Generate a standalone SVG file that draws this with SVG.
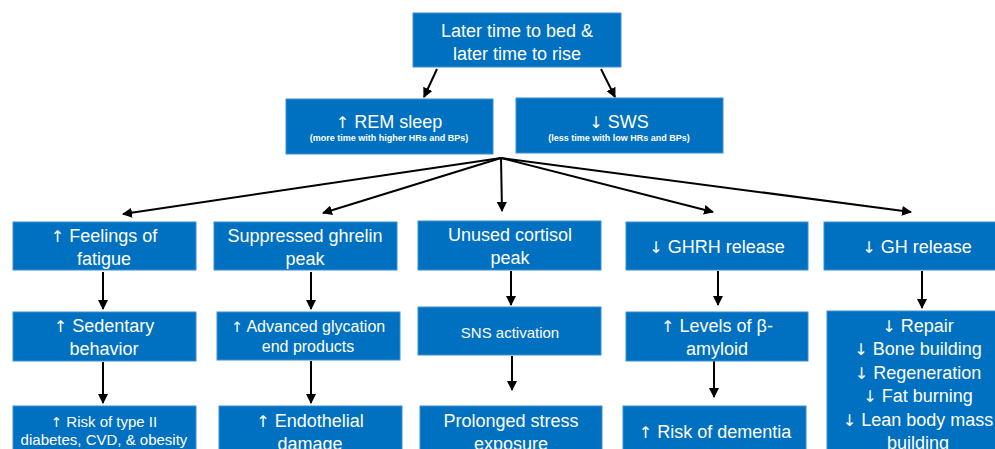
<svg xmlns="http://www.w3.org/2000/svg" width="995" height="449" viewBox="0 0 995 449">
  <defs>
    <style>
      .box { fill: #0070C0; stroke: #3C8FD6; stroke-width: 1; }
      .t { font-family: "Liberation Sans", Arial, sans-serif; fill: #ffffff; text-anchor: middle; }
      .l { font-size: 18px; }
      .m { font-size: 16px; }
      .s { font-size: 15px; }
      .xs { font-size: 9px; font-weight: bold; }
      .ar { font-family: "DejaVu Sans", sans-serif; font-size: 0.9em; }
      .edge { stroke: #000000; stroke-width: 2; fill: none; marker-end: url(#head); }
    </style>
    <marker id="head" viewBox="0 0 10 10" refX="9" refY="5" markerWidth="5" markerHeight="5" orient="auto" markerUnits="strokeWidth">
      <path d="M0,0 L10,5 L0,10 z" fill="#000000"/>
    </marker>
  </defs>
  <rect width="995" height="449" fill="#ffffff"/>

  <!-- connectors -->
  <g id="connectors">
    <line class="edge" x1="437" y1="69" x2="424" y2="97"/>
    <line class="edge" x1="601" y1="69" x2="615" y2="97"/>
    <line class="edge" x1="501" y1="158" x2="123" y2="214"/>
    <line class="edge" x1="501" y1="158" x2="323" y2="213"/>
    <line class="edge" x1="501" y1="158" x2="502" y2="211"/>
    <line class="edge" x1="501" y1="158" x2="713" y2="212"/>
    <line class="edge" x1="501" y1="158" x2="911" y2="212"/>
    <line class="edge" x1="103" y1="272" x2="103" y2="309"/>
    <line class="edge" x1="103" y1="362" x2="103" y2="403"/>
    <line class="edge" x1="311" y1="272" x2="311" y2="309"/>
    <line class="edge" x1="311" y1="361" x2="311" y2="403"/>
    <line class="edge" x1="511" y1="271" x2="511" y2="305"/>
    <line class="edge" x1="512" y1="356" x2="512" y2="390"/>
    <line class="edge" x1="718" y1="271" x2="718" y2="305"/>
    <line class="edge" x1="714" y1="361" x2="714" y2="397"/>
    <line class="edge" x1="922" y1="271" x2="922" y2="308"/>
  </g>

  <!-- top level -->
  <g id="n-later">
    <rect class="box" x="413" y="13" width="208" height="54"/>
    <text class="t l" x="517" y="36.5">Later time to bed &amp;</text>
    <text class="t l" x="517" y="59.5">later time to rise</text>
  </g>

  <g id="n-rem">
    <rect class="box" x="286" y="99" width="207" height="55"/>
    <text class="t l" x="389" y="127.5"><tspan class="ar">↑</tspan> REM sleep</text>
    <text class="t xs" x="389" y="141">(more time with higher HRs and BPs)</text>
  </g>
  <g id="n-sws">
    <rect class="box" x="516" y="98" width="207" height="55"/>
    <text class="t l" x="619" y="127.5"><tspan class="ar">↓</tspan> SWS</text>
    <text class="t xs" x="619" y="141">(less time with low HRs and BPs)</text>
  </g>

  <!-- column 1 -->
  <g id="n-fatigue">
    <rect class="box" x="13" y="222" width="183" height="48"/>
    <text class="t l" x="104" y="241.5"><tspan class="ar">↑</tspan> Feelings of</text>
    <text class="t l" x="104" y="264.5">fatigue</text>
  </g>
  <g id="n-sedentary">
    <rect class="box" x="13" y="312" width="183" height="49"/>
    <text class="t l" x="104" y="331.5"><tspan class="ar">↑</tspan> Sedentary</text>
    <text class="t l" x="104" y="354.5">behavior</text>
  </g>
  <g id="n-risk2">
    <rect class="box" x="13" y="406" width="183" height="60"/>
    <text class="t s" x="104" y="427"><tspan class="ar">↑</tspan> Risk of type II</text>
    <text class="t s" x="104" y="445">diabetes, CVD, &amp; obesity</text>
  </g>

  <!-- column 2 -->
  <g id="n-ghrelin">
    <rect class="box" x="214" y="222" width="183" height="48"/>
    <text class="t l" x="305" y="241.5">Suppressed ghrelin</text>
    <text class="t l" x="305" y="264.5">peak</text>
  </g>
  <g id="n-age">
    <rect class="box" x="217" y="312" width="183" height="48"/>
    <text class="t m" x="308" y="332"><tspan class="ar">↑</tspan> Advanced glycation</text>
    <text class="t m" x="308" y="352">end products</text>
  </g>
  <g id="n-endothelial">
    <rect class="box" x="219" y="406" width="183" height="60"/>
    <text class="t l" x="310" y="426.5"><tspan class="ar">↑</tspan> Endothelial</text>
    <text class="t l" x="310" y="449.5">damage</text>
  </g>

  <!-- column 3 -->
  <g id="n-cortisol">
    <rect class="box" x="418" y="221" width="183" height="49"/>
    <text class="t l" x="510" y="241">Unused cortisol</text>
    <text class="t l" x="510" y="264">peak</text>
  </g>
  <g id="n-sns">
    <rect class="box" x="418" y="307" width="183" height="48"/>
    <text class="t s" x="510" y="337.5">SNS activation</text>
  </g>
  <g id="n-stress">
    <rect class="box" x="420" y="406" width="182" height="60"/>
    <text class="t l" x="511" y="426.5">Prolonged stress</text>
    <text class="t l" x="511" y="449.5">exposure</text>
  </g>

  <!-- column 4 -->
  <g id="n-ghrh">
    <rect class="box" x="626" y="222" width="182" height="48"/>
    <text class="t l" x="717" y="252.5"><tspan class="ar">↓</tspan> GHRH release</text>
  </g>
  <g id="n-amyloid">
    <rect class="box" x="626" y="312" width="182" height="49"/>
    <text class="t l" x="717" y="331.5"><tspan class="ar">↑</tspan> Levels of β-</text>
    <text class="t l" x="717" y="354.5">amyloid</text>
  </g>
  <g id="n-dementia">
    <rect class="box" x="623" y="406" width="183" height="60"/>
    <text class="t l" x="715" y="437.5"><tspan class="ar">↑</tspan> Risk of dementia</text>
  </g>

  <!-- column 5 -->
  <g id="n-gh">
    <rect class="box" x="824" y="222" width="186" height="48"/>
    <text class="t l" x="917" y="252.5"><tspan class="ar">↓</tspan> GH release</text>
  </g>
  <g id="n-gh-effects">
    <rect class="box" x="827" y="311" width="183" height="150"/>
    <text class="t l" x="918" y="331.5"><tspan class="ar">↓</tspan> Repair</text>
    <text class="t l" x="918" y="354.5"><tspan class="ar">↓</tspan> Bone building</text>
    <text class="t l" x="918" y="378.5"><tspan class="ar">↓</tspan> Regeneration</text>
    <text class="t l" x="918" y="401.5"><tspan class="ar">↓</tspan> Fat burning</text>
    <text class="t l" x="918" y="425.5"><tspan class="ar">↓</tspan> Lean body mass</text>
    <text class="t l" x="918" y="448.5">building</text>
  </g>
</svg>
